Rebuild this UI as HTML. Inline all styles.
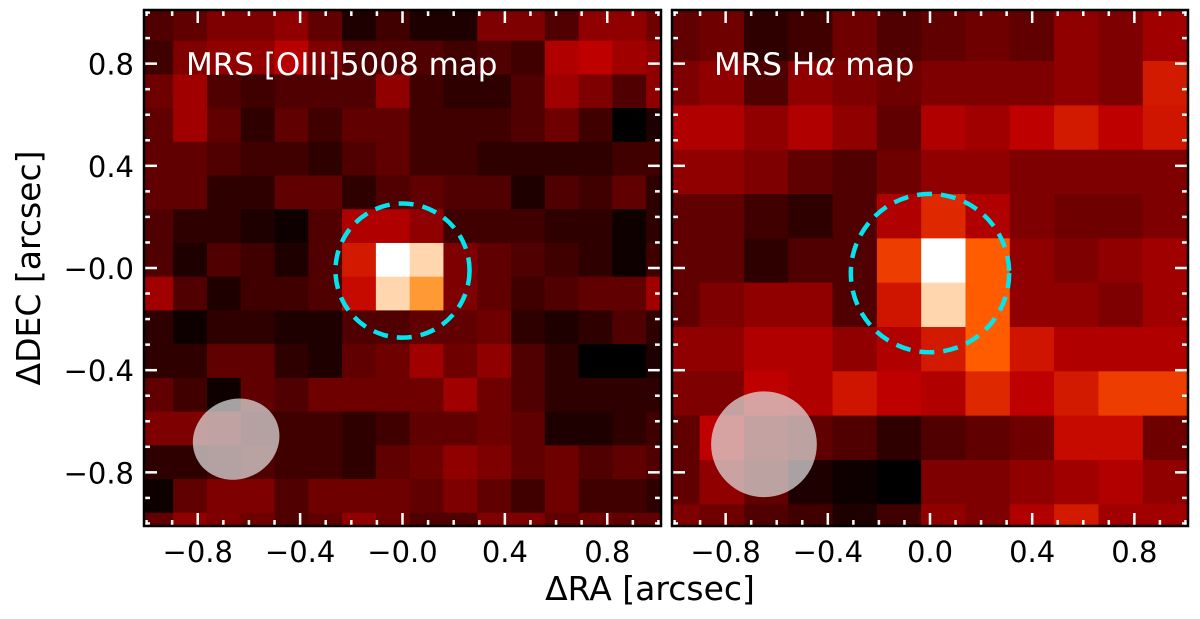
<!DOCTYPE html>
<html><head><meta charset="utf-8"><style>
html,body{margin:0;padding:0;background:#fff;width:1200px;height:619px;overflow:hidden}
svg{display:block;font-family:"DejaVu Sans","Liberation Sans",sans-serif}
</style></head><body>
<svg id="fig" width="1200" height="619" viewBox="0 0 1200 619"></svg>
<script>
// ---- data ----
const xTicks=[-0.8,-0.4,0.0,0.4,0.8];
const xTickLabelsL=["\u22120.8","\u22120.4","\u22120.0","0.4","0.8"];
const xTickLabelsR=["\u22120.8","\u22120.4","0.0","0.4","0.8"];
const yTicks=[0.8,0.4,0.0,-0.4,-0.8];
const yTickLabels=["0.8","0.4","\u22120.0","\u22120.4","\u22120.8"];
const oiiiMap=[
[.21,.25,.33,.33,.38,.25,.08,.17,.08,.08,.33,.33,.21,.38,.38,.29],
[.17,.33,.38,.38,.48,.33,.21,.21,.21,.17,.21,.17,.46,.5,.42,.38],
[.29,.42,.21,.17,.21,.21,.21,.38,.17,.12,.12,.21,.42,.33,.21,.38],
[.25,.42,.25,.12,.25,.17,.25,.25,.17,.17,.17,.21,.29,.17,0,.08],
[.25,.25,.21,.17,.17,.12,.21,.25,.17,.17,.12,.12,.12,.12,.17,.17],
[.25,.25,.12,.12,.25,.25,.12,.21,.25,.21,.21,.08,.21,.17,.25,.12],
[.21,.12,.12,.08,.04,.21,.46,.46,.38,.17,.17,.17,.12,.12,.04,.12],
[.21,.08,.21,.17,.08,.21,.55,1,.92,.33,.25,.21,.17,.12,.04,.17],
[.42,.21,.08,.17,.17,.21,.52,.92,.8,.33,.25,.17,.21,.25,.25,.42],
[.12,.04,.12,.12,.08,.08,.21,.21,.25,.25,.29,.12,.08,.12,.21,.12],
[.12,.12,.25,.25,.12,.08,.25,.29,.42,.29,.38,.21,.12,0,0,.08],
[.25,.17,.04,.25,.21,.29,.29,.29,.29,.42,.29,.21,.12,.12,.12,.12],
[.33,.33,.29,.17,.17,.17,.12,.17,.25,.25,.29,.25,.08,.08,.12,.17],
[.12,.12,.17,.21,.17,.17,.12,.25,.29,.38,.33,.25,.29,.21,.25,.21],
[.04,.25,.33,.33,.21,.29,.29,.29,.25,.33,.25,.17,.29,.17,.17,.12],
[.25,.38,.33,.29,.21,.25,.38,.29,.21,.21,.33,.33,.25,.29,.25,.25]];
const haMap=[
[.25,.29,.12,.17,.29,.21,.25,.29,.25,.38,.33,.42,.42],
[.33,.38,.21,.38,.33,.29,.33,.33,.33,.38,.33,.55,.55],
[.46,.46,.38,.46,.38,.25,.46,.42,.5,.55,.5,.54,.54],
[.38,.38,.33,.25,.21,.29,.38,.38,.33,.33,.33,.33,.33],
[.25,.25,.17,.12,.21,.46,.58,.46,.33,.29,.29,.33,.33],
[.25,.25,.12,.21,.21,.62,1,.68,.38,.33,.38,.42,.42],
[.25,.33,.38,.38,.21,.54,.92,.68,.38,.38,.33,.42,.42],
[.38,.38,.46,.46,.38,.46,.55,.68,.54,.46,.46,.46,.46],
[.33,.33,.5,.46,.54,.5,.46,.58,.5,.55,.62,.62,.62],
[.25,.5,.33,.25,.21,.12,.21,.25,.29,.52,.52,.29,.29],
[.25,.38,.25,.08,.04,0,.33,.33,.38,.42,.46,.38,.38],
[.33,.29,.21,.17,.08,.17,.38,.33,.46,.55,.42,.42,.42]];
// grid geometry (arcsec): first inner edge x, first inner edge y, cell size
const oiiiGrid=[-0.896,0.89,0.132];
const haGrid=[-0.902,0.81,0.1735];
// apertures: cx, cy, r (arcsec)
const oiiiAperture=[0.0,-0.01,0.262];
const haAperture=[0.0,-0.02,0.31];
// beams: cx, cy, rx, ry, angle
const oiiiBeam=[-0.65,-0.67,0.172,0.156,-25];
const haBeam=[-0.65,-0.69,0.207,0.207,0];

const NS="http://www.w3.org/2000/svg";
const svg=document.getElementById('fig');
function mk(tag,attrs,parent){const e=document.createElementNS(NS,tag);for(const k in attrs)e.setAttribute(k,attrs[k]);(parent||svg).appendChild(e);return e;}
function cmap(v){v=Math.max(0,Math.min(1,v));const c=x=>Math.round(255*Math.max(0,Math.min(1,x)));return `rgb(${c(1.5*v)},${c(2*v-1)},${c(4*v-3)})`;}

const LIM=1.01, PY0=10, PY1=526;
function panel(name,px0,px1,data,grid,ap,beam,title,xlabels,showY){
  const W=px1-px0;
  const sx=v=>px0+(v+LIM)/(2*LIM)*W;
  const sy=v=>PY0+(LIM-v)/(2*LIM)*(PY1-PY0);
  const g=mk('g',{});
  
  
  const clipId=name+'-clip';
  const cp=mk('clipPath',{id:clipId},g);mk('rect',{x:px0,y:PY0,width:W,height:PY1-PY0},cp);
  const cells=mk('g',{'clip-path':`url(#${clipId})`},g);
  const [x0,y0,cs]=grid;
  data.forEach((row,j)=>row.forEach((v,i)=>{
    let xa=x0+(i-1)*cs, xb=xa+cs, ya=y0-(j-1)*cs, yb=ya-cs;
    if(i===0) xa=-LIM-0.1;
    if(i===row.length-1) xb=LIM+0.1;
    if(j===0) ya=LIM+0.1;
    if(j===data.length-1) yb=-LIM-0.1;
    const r=mk('rect',{x:sx(xa),y:sy(ya),width:sx(xb)-sx(xa)+0.6,height:sy(yb)-sy(ya)+0.6,fill:cmap(v)},cells);
    
    
  }));
  const b=mk('ellipse',{cx:sx(beam[0]),cy:sy(beam[1]),rx:beam[2]*W/(2*LIM),ry:beam[3]*(PY1-PY0)/(2*LIM),fill:'rgba(225,225,225,0.72)',transform:`rotate(${beam[4]} ${sx(beam[0])} ${sy(beam[1])})`},cells);
  
  
  const a=mk('circle',{cx:sx(ap[0]),cy:sy(ap[1]),r:ap[2]*W/(2*LIM),fill:'none',stroke:'#00e5ee','stroke-width':4.5,'stroke-dasharray':'15 9'},cells);
  
  
  for(let k=-10;k<=10;k++){
    const v=k/10, maj=(k%4===0), L=maj?13:6;
    if(Math.abs(v)>LIM)continue;
    const X=sx(v),Y=sy(v);
    mk('line',{x1:X,y1:PY0,x2:X,y2:PY0+L,stroke:'#fff','stroke-width':2.5},g);
    mk('line',{x1:X,y1:PY1,x2:X,y2:PY1-L,stroke:'#fff','stroke-width':2.5},g);
    mk('line',{x1:px0,y1:Y,x2:px0+L,y2:Y,stroke:'#fff','stroke-width':2.5},g);
    mk('line',{x1:px1,y1:Y,x2:px1-L,y2:Y,stroke:'#fff','stroke-width':2.5},g);
  }
  mk('rect',{x:px0,y:PY0,width:W,height:PY1-PY0,fill:'none',stroke:'#000','stroke-width':2.5},g);
  const t=mk('text',{x:px0+42,y:75,fill:'#fff','font-size':31},g);
  t.innerHTML=title;
  
  
  xTicks.forEach((v,i)=>{
    const tl=mk('text',{x:sx(v),y:562,'text-anchor':'middle','font-size':29,fill:'#000'},g);
    tl.textContent=xlabels[i];
    
    
  });
  if(showY) yTicks.forEach((v,i)=>{
    const tl=mk('text',{x:px0-10,y:sy(v)+11,'text-anchor':'end','font-size':29,fill:'#000'},g);
    tl.textContent=yTickLabels[i];
    
    
  });
}
panel('oiii-panel',144,661,oiiiMap,oiiiGrid,oiiiAperture,oiiiBeam,'MRS [OIII]5008 map',xTickLabelsL,true);
panel('halpha-panel',672,1188,haMap,haGrid,haAperture,haBeam,'MRS H<tspan font-style="italic">\u03b1</tspan> map',xTickLabelsR,false);
const xt=mk('text',{x:650,y:600,'text-anchor':'middle','font-size':33,fill:'#000'});
xt.textContent='\u0394RA [arcsec]';


const yt=mk('text',{x:0,y:0,'text-anchor':'middle','font-size':33,fill:'#000',transform:'translate(40,268) rotate(-90)'});
yt.textContent='\u0394DEC [arcsec]';


</script>
</body></html>
